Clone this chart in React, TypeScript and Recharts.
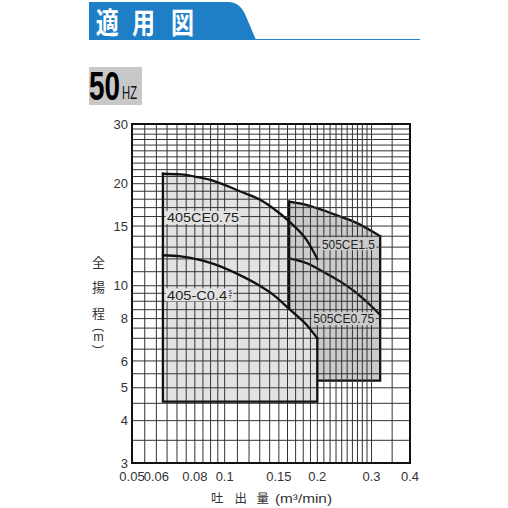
import React from 'react';
import {
  ComposedChart,
  XAxis,
  YAxis,
  CartesianGrid,
  Scatter,
  ReferenceDot,
  ReferenceArea,
} from 'recharts';

const FONT = '"Liberation Sans", Arial, Helvetica, sans-serif';
const JFONT = '"Noto Sans CJK JP", "Noto Sans CJK SC", sans-serif';

// grid lines (log scale)
const xGridTicks = [
  0.05, 0.055, 0.06, 0.065, 0.07, 0.075, 0.08, 0.085, 0.09, 0.095, 0.1,
  0.11, 0.12, 0.13, 0.14, 0.15, 0.16, 0.17, 0.18, 0.19, 0.2,
  0.21, 0.22, 0.23, 0.24, 0.25, 0.26, 0.27, 0.28, 0.29, 0.3, 0.35, 0.4,
];
const xTickLabels = [0.05, 0.06, 0.08, 0.1, 0.15, 0.2, 0.3, 0.4];
const yGridTicks = [
  3, 3.5, 4, 4.5, 5, 5.5, 6, 6.5, 7, 7.5, 8, 8.5, 9, 9.5, 10,
  11, 12, 13, 14, 15, 16, 17, 18, 19, 20, 21, 22, 23, 24, 25, 26, 27, 28, 29, 30,
];
const yTickLabels = [3, 4, 5, 6, 8, 10, 15, 20, 30];

// 405 series: common range
const q405 = [0.063, 0.2];
const h405Bottom = 4.55;
// 405CE0.75 head curve
const curve405CE075 = [
  { x: 0.063, y: 21.4 },
  { x: 0.072, y: 21.3 },
  { x: 0.082, y: 20.9 },
  { x: 0.092, y: 20.4 },
  { x: 0.112, y: 19.0 },
  { x: 0.13, y: 17.95 },
  { x: 0.144, y: 16.9 },
  { x: 0.163, y: 15.4 },
  { x: 0.185, y: 13.6 },
  { x: 0.2, y: 12.0 },
];
// 405-C0.4 head curve
const curve405C04 = [
  { x: 0.063, y: 12.3 },
  { x: 0.072, y: 12.2 },
  { x: 0.092, y: 11.6 },
  { x: 0.112, y: 10.75 },
  { x: 0.13, y: 10.0 },
  { x: 0.144, y: 9.4 },
  { x: 0.163, y: 8.5 },
  { x: 0.185, y: 7.65 },
  { x: 0.2, y: 7.0 },
];

// 505 series: common range
const q505 = [0.162, 0.32];
const h505Bottom = 5.25;
// 505CE1.5 head curve
const curve505CE15 = [
  { x: 0.162, y: 17.7 },
  { x: 0.185, y: 17.3 },
  { x: 0.209, y: 16.7 },
  { x: 0.237, y: 16.0 },
  { x: 0.269, y: 15.3 },
  { x: 0.304, y: 14.4 },
  { x: 0.32, y: 14.0 },
];
// 505CE0.75 head curve
const curve505CE075 = [
  { x: 0.162, y: 12.05 },
  { x: 0.185, y: 11.65 },
  { x: 0.209, y: 11.0 },
  { x: 0.237, y: 10.3 },
  { x: 0.269, y: 9.5 },
  { x: 0.304, y: 8.6 },
  { x: 0.32, y: 8.2 },
];

// model names and anchor points (data coords)
const labelNames = ['405CE0.75', '405-C0.4', '505CE1.5', '505CE0.75'];
const labelQ = [0.065, 0.065, 0.207, 0.194];
const labelH = [15.9, 9.4, 13.3, 8.0];

// polygons built from the arrays above
const fill405Outer = [{ x: q405[0], y: h405Bottom }, ...curve405CE075, { x: q405[1], y: h405Bottom }];
const fill405Inner = [{ x: q405[0], y: h405Bottom }, ...curve405C04, { x: q405[1], y: h405Bottom }];
const fill505 = [{ x: q505[0], y: h505Bottom }, ...curve505CE15, { x: q505[1], y: h505Bottom }];
const edges405 = [
  curve405C04[curve405C04.length - 1],
  { x: q405[1], y: h405Bottom },
  { x: q405[0], y: h405Bottom },
  curve405CE075[0],
];
const edges505 = [
  curve505CE15[curve505CE15.length - 1],
  { x: q505[1], y: h505Bottom },
  { x: q505[0], y: h505Bottom },
  curve505CE15[0],
];

const LIGHT = '#e2e2e2';
const DARK = '#cbcbcb';
const INK = '#111';
const SW = 2.3;

const noDot = () => <g />;

const isIn = (arr: number[], v: number) => arr.some((t) => Math.abs(t - v) < 1e-9);

const XTick = (props: any) => {
  const { x, y, payload } = props;
  if (!isIn(xTickLabels, payload.value)) return <g />;
  return (
    <text x={x} y={y + 17.5} textAnchor="middle" fontSize={13} fill="#333" fontFamily={FONT}>
      {String(payload.value)}
    </text>
  );
};

const YTick = (props: any) => {
  const { x, y, payload } = props;
  if (!isIn(yTickLabels, payload.value)) return <g />;
  return (
    <text x={x - 4} y={y + 4.6} textAnchor="end" fontSize={13} fill="#333" fontFamily={FONT}>
      {String(payload.value)}
    </text>
  );
};

const makeLabel = (text: string, bg: string, width: number, sup?: boolean) => (p: any) => {
  const { cx, cy } = p;
  return (
    <g>
      <rect x={cx - 1.5} y={cy - 6.5} width={width + 3} height={13} fill={bg} />
      <text
        x={cx}
        y={cy + 4.8}
        fontSize={13.5}
        fill="#222"
        fontFamily={FONT}
        textLength={width}
        lengthAdjust="spacingAndGlyphs"
      >
        {text}
      </text>
      {sup ? (
        <g>
          <rect x={cx + width + 1} y={cy - 6.5} width={5} height={13} fill={bg} />
          <text x={cx + width + 1.5} y={cy - 1.2} fontSize={5.5} fill="#222" fontFamily={FONT}>
            S
          </text>
          <text x={cx + width + 1.5} y={cy + 4.6} fontSize={5.5} fill="#222" fontFamily={FONT}>
            T
          </text>
        </g>
      ) : null}
    </g>
  );
};

const labelShapes = [
  makeLabel(labelNames[0], LIGHT, 72),
  makeLabel(labelNames[1], LIGHT, 60, true),
  makeLabel(labelNames[2], DARK, 53),
  makeLabel(labelNames[3], DARK, 61),
];

export default function App() {
  const fillLine = (color: string) => ({ fill: color, stroke: 'none' });
  const inkLine = { fill: 'none', stroke: INK, strokeWidth: SW, strokeLinecap: 'square', strokeLinejoin: 'miter' } as any;

  return (
    <div style={{ position: 'absolute', left: 0, top: 0, width: 508, height: 508, background: '#fff' }}>
      <ComposedChart width={508} height={508} margin={{ top: 124, right: 98, bottom: 15, left: 92 }}>
        <XAxis
          dataKey="x"
          type="number"
          scale="log"
          domain={[0.05, 0.4]}
          allowDataOverflow
          ticks={xGridTicks}
          interval={0}
          tick={XTick}
          tickLine={false}
          axisLine={false}
          tickSize={0}
          tickMargin={0}
          height={30}
        />
        <YAxis
          dataKey="y"
          type="number"
          scale="log"
          domain={[3, 30]}
          allowDataOverflow
          ticks={yGridTicks}
          interval={0}
          tick={YTick}
          tickLine={false}
          axisLine={false}
          tickSize={0}
          tickMargin={0}
          width={40}
        />

        <Scatter data={fill405Outer} shape={noDot} line={fillLine(LIGHT)} lineType="joint" isAnimationActive={false} zIndex={10} />
        <Scatter data={fill505} shape={noDot} line={fillLine(DARK)} lineType="joint" isAnimationActive={false} zIndex={11} />
        <Scatter data={edges505} shape={noDot} line={inkLine} lineType="joint" isAnimationActive={false} zIndex={12} />
        <Scatter data={curve505CE15} shape={noDot} line={inkLine} lineType="joint" lineJointType="monotoneX" isAnimationActive={false} zIndex={12} />
        <Scatter data={curve505CE075} shape={noDot} line={inkLine} lineType="joint" lineJointType="monotoneX" isAnimationActive={false} zIndex={12} />
        <Scatter data={fill405Inner} shape={noDot} line={fillLine(LIGHT)} lineType="joint" isAnimationActive={false} zIndex={13} />

        <CartesianGrid stroke="#333" strokeWidth={1} zIndex={14} />

        {labelShapes.map((shape, i) => (
          <ReferenceDot key={labelNames[i]} x={labelQ[i]} y={labelH[i]} r={0} shape={shape} zIndex={15} />
        ))}

        <Scatter data={edges405} shape={noDot} line={inkLine} lineType="joint" isAnimationActive={false} zIndex={16} />
        <Scatter data={curve405CE075} shape={noDot} line={inkLine} lineType="joint" lineJointType="monotoneX" isAnimationActive={false} zIndex={16} />
        <Scatter data={curve405C04} shape={noDot} line={inkLine} lineType="joint" lineJointType="monotoneX" isAnimationActive={false} zIndex={16} />

        <ReferenceArea x1={0.05} x2={0.4} y1={3} y2={30} fill="none" fillOpacity={0} stroke={INK} strokeWidth={2} zIndex={17} />
      </ComposedChart>

      <svg
        width={508}
        height={508}
        style={{ position: 'absolute', left: 0, top: 0, pointerEvents: 'none' }}
      >
        {/* header banner */}
        <line x1={89} y1={39.5} x2={420} y2={39.5} stroke="#2a82c8" strokeWidth={1.2} />
        <path d="M89 2 H228 C236 2 241 6 245 14 L256 40 H89 Z" fill="#1f7fc6" />
        {['適', '用', '図'].map((c, i) => (
          <text
            key={c}
            x={[95.7, 132, 171][i]}
            y={33.5}
            fontSize={29}
            fontWeight="bold"
            fill="#fff"
            fontFamily={JFONT}
            textLength={23}
            lengthAdjust="spacingAndGlyphs"
          >
            {c}
          </text>
        ))}

        {/* frequency tag */}
        <rect x={89} y={67} width={53} height={38} fill="#c8c8c8" />
        <text x={89} y={99.5} fontSize={41} fontWeight="bold" fill="#000" fontFamily={FONT} textLength={31} lengthAdjust="spacingAndGlyphs">
          50
        </text>
        <text x={122} y={98.7} fontSize={17.5} fill="#111" fontFamily={FONT} textLength={15} lengthAdjust="spacingAndGlyphs">
          HZ
        </text>

        {/* y title */}
        {['全', '揚', '程'].map((c, i) => (
          <text key={c} x={98.5} y={[267, 291.7, 318.3][i]} fontSize={13} fill="#333" textAnchor="middle" fontFamily={JFONT}>
            {c}
          </text>
        ))}
        <text x={98.5} y={333.5} fontSize={12} fill="#333" textAnchor="middle" fontFamily={FONT} transform="rotate(90 98.5 330)">(</text>
        <text x={98.5} y={341} fontSize={12.5} fill="#333" textAnchor="middle" fontFamily={FONT}>m</text>
        <text x={98.5} y={350.2} fontSize={12} fill="#333" textAnchor="middle" fontFamily={FONT} transform="rotate(90 98.5 346.7)">)</text>

        {/* x title */}
        {['吐', '出', '量'].map((c, i) => (
          <text key={c} x={[211, 234.5, 256.5][i]} y={502.5} fontSize={12.5} fill="#333" fontFamily={JFONT}>
            {c}
          </text>
        ))}
        <text x={275} y={502.5} fontSize={13.5} fill="#333" fontFamily={FONT} textLength={57} lengthAdjust="spacingAndGlyphs">
          (m³/min)
        </text>
      </svg>
    </div>
  );
}
